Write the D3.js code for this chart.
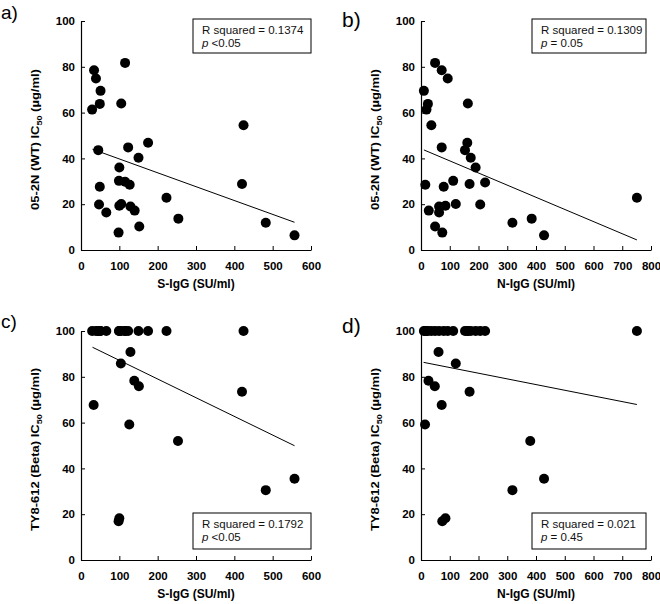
<!DOCTYPE html>
<html><head><meta charset="utf-8">
<script src="https://cdn.jsdelivr.net/npm/d3@7"></script>
<style>
body{margin:0;background:#fff;}
svg{display:block;font-family:"Liberation Sans",Arial,sans-serif;}
</style></head>
<body><svg id="c" width="660" height="604"></svg>
<script>
// ---- data ----
const aX = [34,39,51,29,49,115,105,45,100,99,115,127,123,175,150,49,47,66,100,105,129,140,98,152,223,254,424,420,482,557];
const aY = [78.5,74.9,69.5,61.3,63.8,81.7,64,43.6,36,30.2,29.8,28.5,44.8,46.8,40.3,27.6,19.9,16.4,19.3,20.1,19,17.2,7.6,10.3,22.8,13.7,54.5,28.8,11.9,6.4];
const bX = [10,19,24,49,72,93,36,163,72,161,153,173,190,112,169,223,15,79,63,63,85,121,206,27,49,74,318,385,428,751];
const bY = [69.5,61.3,63.8,81.7,78.5,74.9,54.5,64,44.8,46.8,43.6,40.3,36,30.2,28.8,29.5,28.5,27.6,19,16.4,19.3,20.1,19.9,17.2,10.3,7.6,11.9,13.7,6.4,22.8];
const cX = [33,104,129,139,151,126,253,420,482,557,98,100, 29,39,45,47,49,51,66,99,105,115,115,123,150,175,223,424,49,100];
const cY = [67.7,85.8,90.8,78.3,75.9,59.2,52,73.5,30.5,35.5,16.9,18.2, 100,100,100,100,100,100,100,100,100,100,100,100,100,100,100,100,100,100];
const dX = [61,121,26,48,72,169,14,380,318,428,74,85, 10,15,19,24,36,49,63,79,93,112,153,161,163,173,190,206,223,751];
const dY = [90.8,85.8,78.3,75.9,67.7,73.5,59.2,52,30.5,35.5,16.9,18.2, 100,100,100,100,100,100,100,100,100,100,100,100,100,100,100,100,100,100];
const lineA = [[30,44.0],[557,12.1]];
const lineB = [[10,43.7],[751,4.4]];
const lineC = [[30,92.9],[557,49.9]];
const lineD = [[9,86.3],[751,67.9]];
const sTicks = [0,100,200,300,400,500,600];
const nTicks = [0,100,200,300,400,500,600,700,800];
const yTicks = [0,20,40,60,80,100];
const panelLabels = ["a)","b)","c)","d)"];
const xTitles = ["S-IgG (SU/ml)","N-IgG (SU/ml)","S-IgG (SU/ml)","N-IgG (SU/ml)"];
const yTitleMain = ["05-2N (WT) IC","05-2N (WT) IC","TY8-612 (Beta) IC","TY8-612 (Beta) IC"];
const rsq = ["R squared = 0.1374","R squared = 0.1309","R squared = 0.1792","R squared = 0.021"];
const pval = ["<0.05","= 0.05","<0.05","= 0.45"];

// ---- layout ----
const svg = d3.select("#c");
const panels = [
  {xs:aX, ys:aY, line:lineA, xmax:600, ticks:sTicks, x0:81, x1:311, y0:250, y1:21, lab:[1,19], lfs:19, box:[193,19,118,34]},
  {xs:bX, ys:bY, line:lineB, xmax:800, ticks:nTicks, x0:421, x1:651, y0:250, y1:21, lab:[342,27], lfs:21, box:[532,19,114,34]},
  {xs:cX, ys:cY, line:lineC, xmax:600, ticks:sTicks, x0:81, x1:311, y0:560, y1:331, lab:[1,328], lfs:19, box:[193,513,118,36]},
  {xs:dX, ys:dY, line:lineD, xmax:800, ticks:nTicks, x0:421, x1:651, y0:560, y1:331, lab:[342,333], lfs:21, box:[532,513,114,36]}
];

panels.forEach((p,i)=>{
  const x = d3.scaleLinear().domain([0,p.xmax]).range([p.x0,p.x1]);
  const y = d3.scaleLinear().domain([0,100]).range([p.y0,p.y1]);
  const g = svg.append("g");

  // x axis
  const xa = g.append("g").attr("transform",`translate(0,${p.y0})`)
    .call(d3.axisBottom(x).tickValues(p.ticks).tickSize(0).tickPadding(0).tickFormat(d3.format("d")));
  xa.select(".domain").attr("stroke","#000").attr("stroke-width",1.2);
  xa.selectAll(".tick line").remove();
  xa.selectAll(".tick").append("line").attr("y1",0).attr("y2",-4).attr("stroke","#000").attr("stroke-width",1);
  xa.selectAll(".tick text").attr("y",20).attr("dy",0).attr("fill","#000")
    .style("font-size","11.5px").style("font-weight","bold").style("font-family","'Liberation Sans',Arial,sans-serif");

  // y axis
  const ya = g.append("g").attr("transform",`translate(${p.x0},0)`)
    .call(d3.axisLeft(y).tickValues(yTicks).tickSize(0).tickPadding(0));
  ya.select(".domain").attr("stroke","#000").attr("stroke-width",1.2);
  ya.selectAll(".tick line").remove();
  ya.selectAll(".tick").append("line").attr("x1",0).attr("x2",4).attr("stroke","#000").attr("stroke-width",1);
  ya.selectAll(".tick text").attr("x",-6).attr("fill","#000")
    .style("font-size","11.5px").style("font-weight","bold").style("font-family","'Liberation Sans',Arial,sans-serif");

  // regression line
  g.append("path").datum(p.line)
    .attr("d", d3.line().x(d=>x(d[0])).y(d=>y(d[1])))
    .attr("fill","none").attr("stroke","#000").attr("stroke-width",1);

  // points
  g.selectAll("circle.pt").data(p.xs.map((v,k)=>[v,p.ys[k]])).join("circle")
    .attr("class","pt").attr("cx",d=>x(d[0])).attr("cy",d=>y(d[1])).attr("r",5).attr("fill","#000");

  // legend box
  const [bx,by,bw,bh] = p.box;
  g.append("rect").attr("x",bx).attr("y",by).attr("width",bw).attr("height",bh)
    .attr("fill","#fff").attr("stroke","#000").attr("stroke-width",1);
  g.append("text").attr("x",bx+9).attr("y",by+15).attr("fill","#111").style("font-size","11.5px").text(rsq[i]);
  const t2 = g.append("text").attr("x",bx+9).attr("y",by+28).attr("fill","#111").style("font-size","11.5px");
  t2.append("tspan").style("font-style","italic").text("p");
  t2.append("tspan").text(" " + pval[i]);

  // x title
  g.append("text").attr("x",(p.x0+p.x1)/2).attr("y",p.y0+38).attr("text-anchor","middle")
    .style("font-size","12px").style("font-weight","bold").text(xTitles[i]);

  // y title
  const cy = (p.y0+p.y1)/2 + 4;
  const yt = g.append("text").attr("transform",`translate(${p.x0-42},${cy}) scale(0.85,1) rotate(-90)`)
    .attr("text-anchor","middle").style("font-size","13px").style("font-weight","bold");
  yt.append("tspan").text(yTitleMain[i]);
  yt.append("tspan").attr("dy",3).style("font-size","9px").text("50");
  yt.append("tspan").attr("dy",-3).text(" (µg/ml)");

  // panel label
  g.append("text").attr("x",p.lab[0]).attr("y",p.lab[1]).style("font-size",p.lfs+"px").text(panelLabels[i]);
});
</script></body></html>
